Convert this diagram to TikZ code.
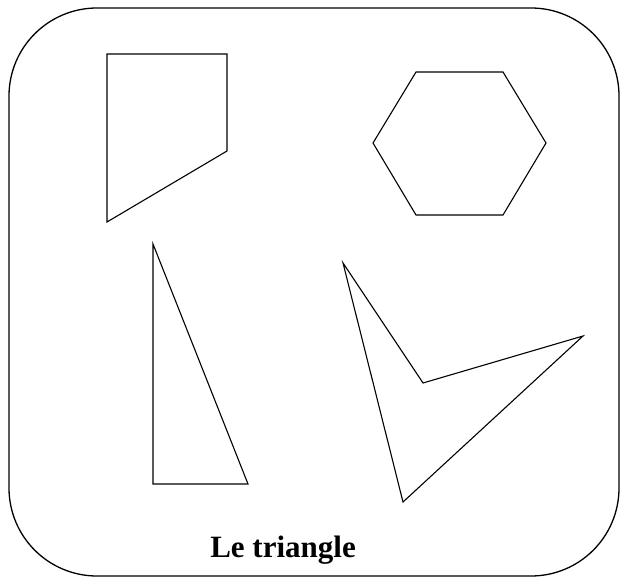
\documentclass[tikz,border=0pt]{standalone}
\usepackage{fontspec}
\setmainfont{Liberation Serif}
\usetikzlibrary{calc}

\begin{document}
\begin{tikzpicture}[
    x=1pt,
    y=-1pt,
    line cap=round,
    line join=miter,
    figure/.style={draw, line width=1.1pt}
]

% -----------------------
% Bounding box
% -----------------------
\useasboundingbox (0,0) rectangle (620,577);

% -----------------------
% Frame
% -----------------------
\draw[line width=1.3pt, rounded corners=88pt] (9,8) rectangle (619,576);

% -----------------------
% Quadrilateral
% -----------------------
\coordinate (Q1) at (107,54);
\coordinate (Q2) at (227,54);
\coordinate (Q3) at (227,151);
\coordinate (Q4) at (107,222);
\draw[figure] (Q1) -- (Q2) -- (Q3) -- (Q4) -- cycle;

% -----------------------
% Hexagon
% -----------------------
\coordinate (H1) at (416,72);
\coordinate (H2) at (503,72);
\coordinate (H3) at (546,143);
\coordinate (H4) at (503,215);
\coordinate (H5) at (416,215);
\coordinate (H6) at (373,143);
\draw[figure] (H1) -- (H2) -- (H3) -- (H4) -- (H5) -- (H6) -- cycle;

% -----------------------
% Right triangle
% -----------------------
\coordinate (T1) at (153,244);
\coordinate (T2) at (153,484);
\coordinate (T3) at (248,484);
\draw[figure] (T1) -- (T2) -- (T3) -- cycle;

% -----------------------
% Concave shape
% -----------------------
\coordinate (K1) at (343,263);
\coordinate (K2) at (423,383);
\coordinate (K3) at (583,336);
\coordinate (K4) at (403,502);
\draw[figure] (K1) -- (K2) -- (K3) -- (K4) -- cycle;

% -----------------------
% Caption
% -----------------------
\node[anchor=base, font=\fontsize{31}{36}\selectfont\bfseries] (caption) at (283,557) {Le triangle};

\end{tikzpicture}
\end{document}
